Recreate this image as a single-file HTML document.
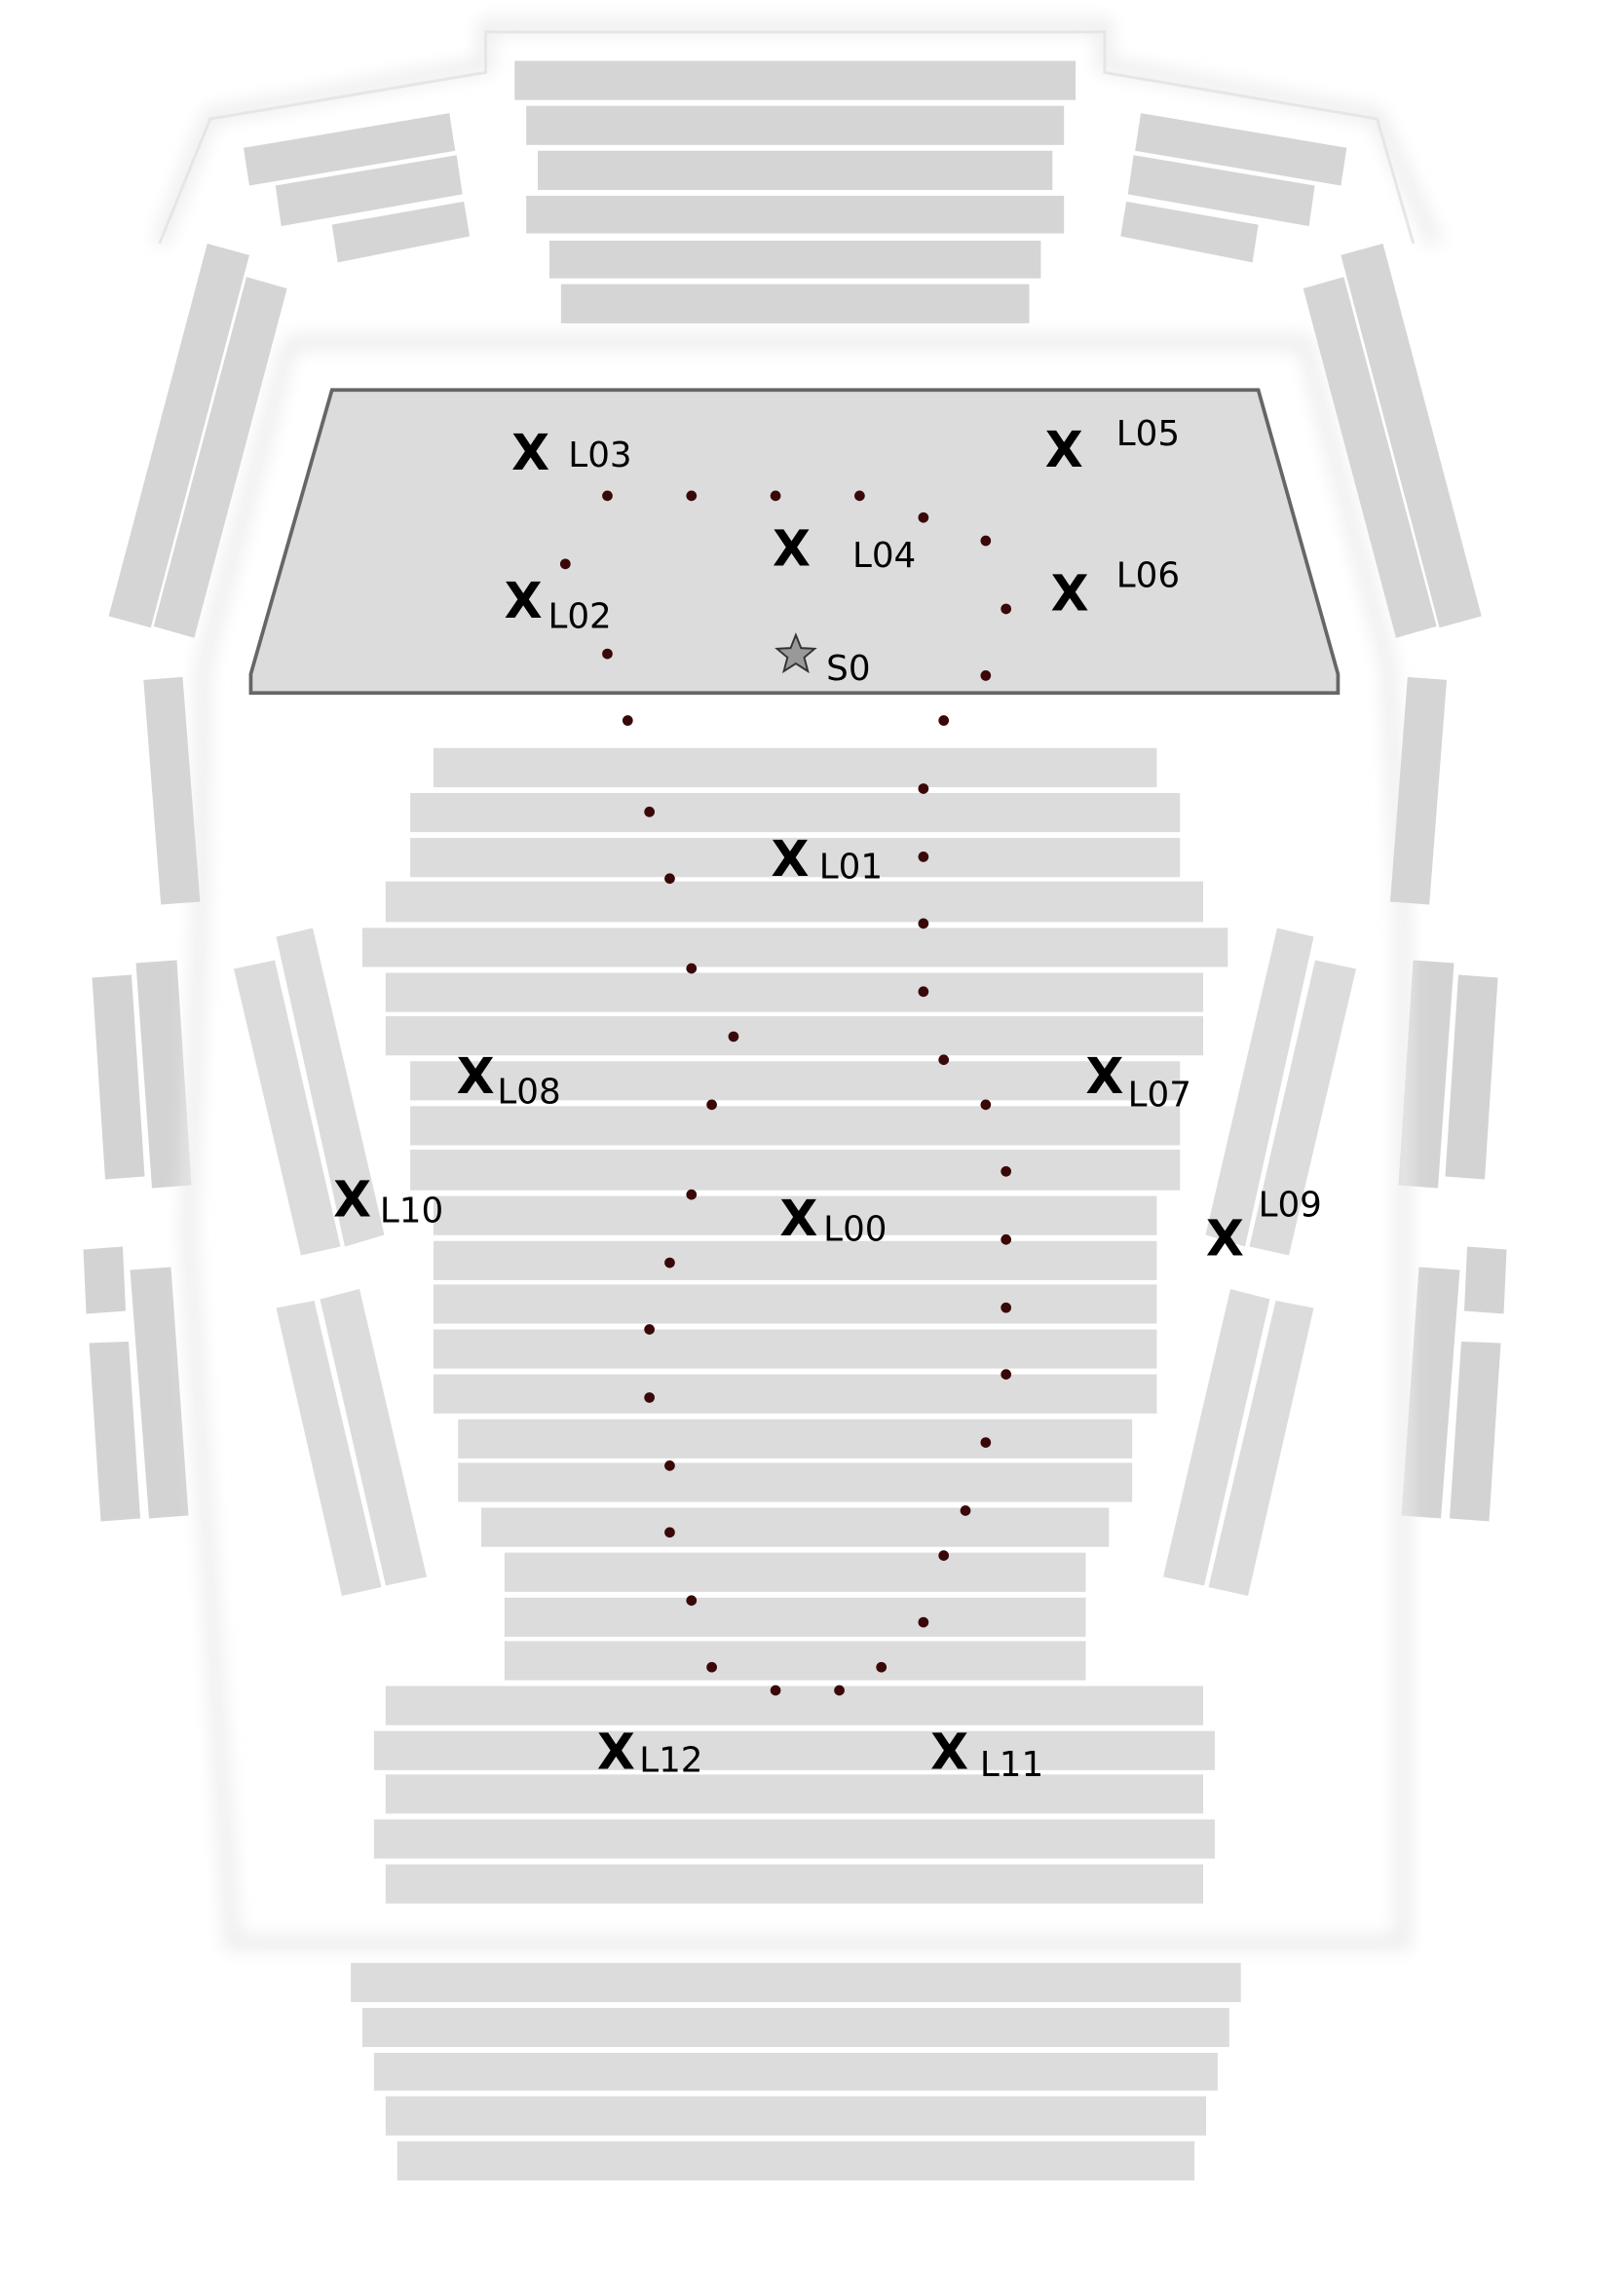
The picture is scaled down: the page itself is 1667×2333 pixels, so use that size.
<!DOCTYPE html>
<html><head><meta charset="utf-8"><style>
html,body{margin:0;padding:0;background:#fff}
svg{display:block}
text{font-family:"DejaVu Sans","Liberation Sans",sans-serif;fill:#000}
.x{font-weight:bold;font-size:34px;text-anchor:middle}
.l{font-size:24px}
</style></head><body>
<svg width="1667" height="2333" viewBox="0 0 1111.33 1555.33" xmlns="http://www.w3.org/2000/svg">
<defs><filter id="bl" x="-20%" y="-20%" width="140%" height="140%"><feGaussianBlur stdDeviation="6"/></filter>
<g id="side">
<polygon points="160,663 188,657 233,853 206,859"/>
<polygon points="189,641 214,635 263,845 236,853"/>
<polygon points="189,895 215,890 261,1086 234,1092"/>
<polygon points="219,889 246,882 292,1079 264,1085"/>
<polygon points="63,669 90,667 99,805 72,807" fill="#d3d3d3"/>
<polygon points="93,659 121,657 131,811 104,813" fill="#d3d3d3"/>
<polygon points="57,855 84,853 86,897 59,899" fill="#d3d3d3"/>
<polygon points="89,869 117,867 129,1037 102,1039" fill="#d3d3d3"/>
<polygon points="61,919 88,918 96,1039 69,1041" fill="#d3d3d3"/>
</g>
</defs>
<g fill="#dcdcdc">
<use href="#side"/>
<use href="#side" transform="translate(1088,0) scale(-1,1)"/>
</g>
<g transform="scale(0.992)">
<g fill="none" stroke="#ececec" stroke-width="10" filter="url(#bl)">
<polyline points="110,168 145,80 335,45 335,18 762,18 762,45 950,80 990,168"/>
<polyline points="200,236 900,236 958,460 968,640 968,1340 160,1340 130,850 138,640 140,460 200,236"/>
</g>
<g stroke="#e6e6e6" stroke-width="2">
<polyline points="110,168 145,82 335,50 335,22 762,22 762,50 950,82 975,168" fill="none"/>
</g>
<g fill="#d5d5d5">
<rect x="355" y="42" width="387" height="27"/>
<rect x="363" y="73" width="371" height="27"/>
<rect x="371" y="104" width="355" height="27"/>
<rect x="363" y="135" width="371" height="26"/>
<rect x="379" y="166" width="339" height="26"/>
<rect x="387" y="196" width="323" height="27"/>
<polygon points="168,102 310,78 314,104 172,128"/>
<polygon points="190,128 315,107 319,134 194,156"/>
<polygon points="229,155 320,139 324,163 233,181"/>
<polygon points="929,102 787,78 783,104 925,128"/>
<polygon points="907,128 782,107 778,134 903,156"/>
<polygon points="868,155 777,139 773,163 864,181"/>
<polygon points="75,425 143,168 172,176 104,433"/>
<polygon points="106,432 170,191 198,199 134,440"/>
<polygon points="1022,425 954,168 925,176 993,433"/>
<polygon points="991,432 927,191 899,199 963,440"/>
<polygon points="99,469 126,467 138,622 111,624"/>
<polygon points="998,469 971,467 959,622 986,624"/>
</g>
<g fill="#dcdcdc">
<rect x="299" y="516" width="499" height="27"/>
<rect x="283" y="547" width="531" height="27"/>
<rect x="283" y="578" width="531" height="27"/>
<rect x="266" y="608" width="564" height="28"/>
<rect x="250" y="640" width="597" height="27"/>
<rect x="266" y="671" width="564" height="27"/>
<rect x="266" y="701" width="564" height="27"/>
<rect x="283" y="732" width="531" height="27"/>
<rect x="283" y="763" width="531" height="27"/>
<rect x="283" y="793" width="531" height="28"/>
<rect x="299" y="825" width="499" height="27"/>
<rect x="299" y="856" width="499" height="27"/>
<rect x="299" y="886" width="499" height="27"/>
<rect x="299" y="917" width="499" height="27"/>
<rect x="299" y="948" width="499" height="27"/>
<rect x="316" y="979" width="465" height="27"/>
<rect x="316" y="1009" width="465" height="27"/>
<rect x="332" y="1040" width="433" height="27"/>
<rect x="348" y="1071" width="401" height="27"/>
<rect x="348" y="1102" width="401" height="27"/>
<rect x="348" y="1132" width="401" height="27"/>
<rect x="266" y="1163" width="564" height="27"/>
<rect x="258" y="1194" width="580" height="27"/>
<rect x="266" y="1224" width="564" height="27"/>
<rect x="258" y="1255" width="580" height="27"/>
<rect x="266" y="1286" width="564" height="27"/>
<rect x="242" y="1354" width="614" height="27"/>
<rect x="250" y="1385" width="598" height="27"/>
<rect x="258" y="1416" width="582" height="26"/>
<rect x="266" y="1446" width="566" height="27"/>
<rect x="274" y="1477" width="550" height="27"/>
</g>
<polygon points="229,269 868,269 923,465 923,478 173,478 173,465" fill="#dcdcdc" stroke="#666" stroke-width="2.5"/>
<g fill="#3a0808">
<circle cx="419" cy="342" r="3.6"/><circle cx="477" cy="342" r="3.6"/><circle cx="535" cy="342" r="3.6"/><circle cx="593" cy="342" r="3.6"/>
<circle cx="637" cy="357" r="3.6"/><circle cx="680" cy="373" r="3.6"/><circle cx="694" cy="420" r="3.6"/><circle cx="680" cy="466" r="3.6"/>
<circle cx="651" cy="497" r="3.6"/><circle cx="637" cy="544" r="3.6"/><circle cx="637" cy="591" r="3.6"/><circle cx="637" cy="637" r="3.6"/>
<circle cx="637" cy="684" r="3.6"/><circle cx="651" cy="731" r="3.6"/><circle cx="680" cy="762" r="3.6"/><circle cx="694" cy="808" r="3.6"/>
<circle cx="694" cy="855" r="3.6"/><circle cx="694" cy="902" r="3.6"/><circle cx="694" cy="948" r="3.6"/><circle cx="680" cy="995" r="3.6"/>
<circle cx="666" cy="1042" r="3.6"/><circle cx="651" cy="1073" r="3.6"/><circle cx="637" cy="1119" r="3.6"/><circle cx="608" cy="1150" r="3.6"/>
<circle cx="579" cy="1166" r="3.6"/><circle cx="535" cy="1166" r="3.6"/><circle cx="491" cy="1150" r="3.6"/><circle cx="477" cy="1104" r="3.6"/>
<circle cx="462" cy="1057" r="3.6"/><circle cx="462" cy="1011" r="3.6"/><circle cx="448" cy="964" r="3.6"/><circle cx="448" cy="917" r="3.6"/>
<circle cx="462" cy="871" r="3.6"/><circle cx="477" cy="824" r="3.6"/><circle cx="491" cy="762" r="3.6"/><circle cx="506" cy="715" r="3.6"/>
<circle cx="477" cy="668" r="3.6"/><circle cx="462" cy="606" r="3.6"/><circle cx="448" cy="560" r="3.6"/><circle cx="433" cy="497" r="3.6"/>
<circle cx="419" cy="451" r="3.6"/><circle cx="390" cy="389" r="3.6"/>
</g>
<polygon points="549,438 552.6,447 562,447.5 554.8,453.5 557.3,463 549,457.7 540.7,463 543.2,453.5 536,447.5 545.4,447" fill="#999" stroke="#333" stroke-width="1.3"/>
<text x="570" y="469" class="l">S0</text>
<text x="366" y="324" class="x">X</text><text x="392" y="322" class="l">L03</text>
<text x="734" y="322" class="x">X</text><text x="770" y="307" class="l">L05</text>
<text x="546" y="390" class="x">X</text><text x="588" y="391" class="l">L04</text>
<text x="361" y="426" class="x">X</text><text x="378" y="433" class="l">L02</text>
<text x="738" y="421" class="x">X</text><text x="770" y="405" class="l">L06</text>
<text x="545" y="604" class="x">X</text><text x="565" y="606" class="l">L01</text>
<text x="328" y="754" class="x">X</text><text x="343" y="761" class="l">L08</text>
<text x="762" y="754" class="x">X</text><text x="778" y="763" class="l">L07</text>
<text x="243" y="839" class="x">X</text><text x="262" y="843" class="l">L10</text>
<text x="551" y="852" class="x">X</text><text x="568" y="856" class="l">L00</text>
<text x="845" y="866" class="x">X</text><text x="868" y="839" class="l">L09</text>
<text x="425" y="1220" class="x">X</text><text x="441" y="1222" class="l">L12</text>
<text x="655" y="1220" class="x">X</text><text x="676" y="1225" class="l">L11</text>
</g>
</svg>
</body></html>
